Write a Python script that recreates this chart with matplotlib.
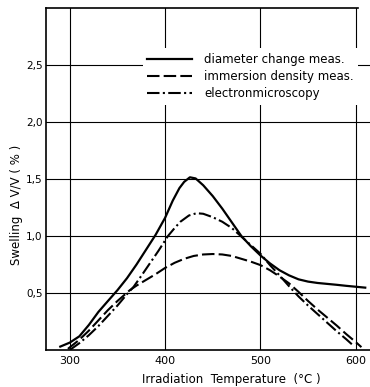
import numpy as np
import matplotlib.pyplot as plt

# swelling vs irradiation temperature, three measuring methods
temp_diam = [290, 300, 310, 320, 330, 340, 350, 360, 370, 380, 390, 400, 408, 415, 420,
             426, 432, 440, 450, 460, 470, 480, 490, 500, 510, 520, 530, 540, 550,
             560, 570, 580, 590, 600, 610]
swell_diam = [0.03, 0.065, 0.12, 0.22, 0.334, 0.43, 0.525, 0.63, 0.75, 0.88, 1.01, 1.16,
              1.31, 1.42, 1.475, 1.515, 1.505, 1.445, 1.35, 1.24, 1.12, 1.00, 0.91, 0.83,
              0.76, 0.70, 0.655, 0.62, 0.60, 0.588, 0.58, 0.572, 0.563, 0.555, 0.547]

temp_dens = [298, 310, 320, 330, 340, 350, 363, 370, 377, 390, 400, 410, 420, 430, 440,
             450, 460, 470, 480, 490, 500, 510, 520, 530, 540, 550, 560, 570, 580, 590,
             600, 606]
swell_dens = [0.01, 0.09, 0.17, 0.26, 0.35, 0.43, 0.525, 0.565, 0.60, 0.665, 0.72, 0.765,
              0.80, 0.825, 0.838, 0.842, 0.838, 0.825, 0.80, 0.775, 0.745, 0.70, 0.645,
              0.585, 0.51, 0.43, 0.355, 0.285, 0.215, 0.14, 0.07, 0.025]

temp_em = [300, 310, 320, 330, 340, 350, 360, 367, 375, 384, 393, 403, 410, 416, 425,
           433, 440, 450, 460, 470, 480, 490, 500, 510, 520, 530, 540, 550, 560, 570,
           580, 590, 596]
swell_em = [0.0, 0.06, 0.13, 0.21, 0.30, 0.39, 0.49, 0.555, 0.65, 0.76, 0.87, 1.0, 1.07,
            1.125, 1.18, 1.20, 1.195, 1.165, 1.125, 1.07, 0.995, 0.92, 0.845, 0.745, 0.655,
            0.56, 0.47, 0.39, 0.315, 0.24, 0.165, 0.095, 0.05]

labels = ['diameter change meas.', 'immersion density meas.', 'electronmicroscopy']
x_ticks = [300, 400, 500, 600]
y_ticks = [0.5, 1.0, 1.5, 2.0, 2.5]
y_tick_labels = ['0,5', '1,0', '1,5', '2,0', '2,5']

fig = plt.figure(figsize=(3.70, 3.87), dpi=100)
ax = fig.add_axes([0.1243, 0.0956, 0.8757, 0.8837])

ax.plot(temp_diam, swell_diam, color='black', lw=1.6, label=labels[0])
ax.plot(temp_dens, swell_dens, color='black', lw=1.5, dashes=(6, 2), label=labels[1])
ax.plot(temp_em, swell_em, color='black', lw=1.5, dashes=(6, 1.6, 1, 1.6), label=labels[2])

ax.set_xlim(275, 615)
ax.set_ylim(0, 3.0)
ax.set_xticks(x_ticks)
ax.set_yticks(y_ticks)
ax.set_yticklabels(y_tick_labels)
ax.tick_params(axis='y', length=0, labelsize=7.5, pad=2.5)
ax.tick_params(axis='x', length=0, labelsize=8, pad=4)
ax.grid(True, color='black', lw=0.8)
ax.set_axisbelow(True)

ax.spines['right'].set_visible(False)
ax.spines['top'].set_bounds(275, 602)
for s in ['left', 'bottom', 'top']:
    ax.spines[s].set_linewidth(1.2)

leg = ax.legend(loc='upper left', bbox_to_anchor=(0.28, 0.90), fontsize=8.5,
                handlelength=3.8, handletextpad=1.0, labelspacing=0.35,
                frameon=True, framealpha=1, facecolor='white', edgecolor='none',
                borderpad=0.4, fancybox=False)

fig.text(17 / 370, 1 - 205 / 387, 'Swelling  \u0394 V/V ( % )', rotation=90,
         ha='center', va='center', fontsize=8.5)
fig.text(231 / 370, 1 - 379 / 387, 'Irradiation  Temperature  (\u00b0C )',
         ha='center', va='center', fontsize=8.5)

fig.savefig('out.png', dpi=100)
